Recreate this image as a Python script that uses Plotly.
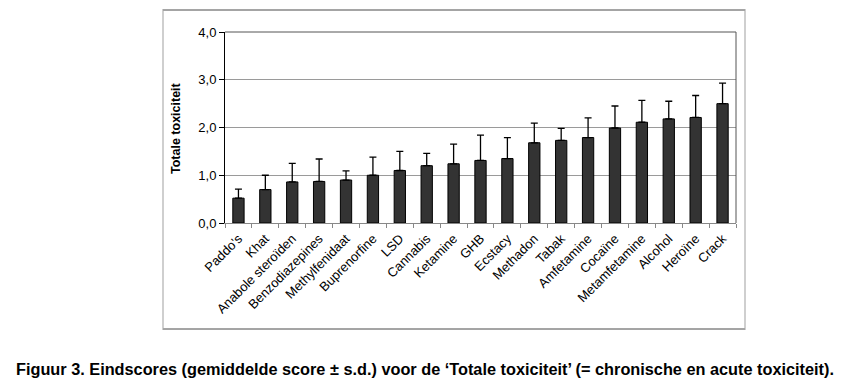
import plotly.graph_objects as go

categories = ["Paddo's", "Khat", "Anabole steroïden", "Benzodiazepines", "Methylfenidaat",
              "Buprenorfine", "LSD", "Cannabis", "Ketamine", "GHB", "Ecstacy", "Methadon",
              "Tabak", "Amfetamine", "Cocaïne", "Metamfetamine", "Alcohol", "Heroïne", "Crack"]
means = [0.52, 0.70, 0.86, 0.87, 0.90, 1.00, 1.10, 1.20, 1.24, 1.31, 1.35, 1.68,
         1.73, 1.79, 1.99, 2.11, 2.18, 2.21, 2.50]
sds = [0.19, 0.30, 0.39, 0.47, 0.19, 0.38, 0.40, 0.26, 0.41, 0.53, 0.44, 0.41,
       0.25, 0.41, 0.46, 0.46, 0.37, 0.46, 0.43]
zeros = [0] * len(sds)
y_ticks = [0, 1, 2, 3, 4]

W, H = 851, 388
L, R, T, B = 225, 736, 32, 223
pw, ph = R - L, B - T

def px(x):
    return (x - L) / pw

def py(y):
    return (B - y) / ph

fig = go.Figure()
fig.add_trace(go.Bar(
    x=categories, y=means, width=0.42,
    marker=dict(color="#333333", line=dict(color="#000000", width=1)),
    error_y=dict(type="data", symmetric=False, array=sds, arrayminus=zeros,
                 color="#000000", thickness=1.3, width=3.5),
))

shapes = []
# outer chart frame
fl, fr, ft, fb = px(163), px(745), py(10), py(329)
shapes += [
    dict(type="rect", xref="paper", yref="paper", x0=fl, x1=fr, y0=fb, y1=ft,
         line=dict(color="#cfcfcf", width=2), fillcolor="rgba(0,0,0,0)", layer="above"),
    dict(type="line", xref="paper", yref="paper", x0=fl, x1=fr, y0=ft, y1=ft,
         line=dict(color="#7a7a7a", width=1), layer="above"),
    dict(type="line", xref="paper", yref="paper", x0=fl, x1=fr, y0=fb, y1=fb,
         line=dict(color="#7a7a7a", width=1), layer="above"),
    # plot area border top/right
    dict(type="line", xref="paper", yref="paper", x0=0, x1=1, y0=1, y1=1, line=dict(color="#555555", width=1)),
    dict(type="line", xref="paper", yref="paper", x0=1, x1=1, y0=0, y1=1, line=dict(color="#555555", width=1)),
]

fig.update_layout(
    width=W, height=H,
    margin=dict(l=L, r=W - R, t=T, b=H - B),
    paper_bgcolor="white", plot_bgcolor="white",
    separators=",.",
    showlegend=False,
    bargap=0.58,
    shapes=shapes,
    font=dict(family="Liberation Sans, Arial, sans-serif", color="#000000"),
    xaxis=dict(
        type="category", tickangle=-45, tickson="boundaries",
        ticks="outside", ticklen=4, tickcolor="#888888",
        showline=True, linecolor="#888888", linewidth=1,
        tickfont=dict(size=13, family="Liberation Sans, Arial, sans-serif"),
        ticklabelstandoff=2,
        range=[-0.5, len(categories) - 0.5],
    ),
    yaxis=dict(
        range=[0, 4], tickvals=y_ticks, tickformat=".1f",
        ticks="outside", ticklen=5, tickcolor="#000000",
        showline=True, linecolor="#000000", linewidth=1,
        showgrid=True, gridcolor="#9a9a9a", gridwidth=1,
        tickfont=dict(size=13, family="Liberation Sans, Arial, sans-serif"),
        zeroline=False,
    ),
    annotations=[
        dict(text="<b>Totale toxiciteit</b>", xref="paper", yref="paper",
             x=px(176), y=py(128), textangle=-90, showarrow=False,
             xanchor="center", yanchor="middle",
             font=dict(size=12.5, family="Liberation Sans, Arial, sans-serif")),
        dict(text="<b>Figuur 3. Eindscores (gemiddelde score ± s.d.) voor de ‘Totale toxiciteit’ (= chronische en acute toxiciteit).</b>",
             xref="paper", yref="paper", x=px(425), y=py(369), showarrow=False,
             xanchor="center", yanchor="middle",
             font=dict(size=16.3, family="Liberation Sans, Arial, sans-serif")),
    ],
)

fig.write_html("out.html", config={"displayModeBar": False},
               post_script="document.body.style.margin='0';document.body.style.padding='0';")
